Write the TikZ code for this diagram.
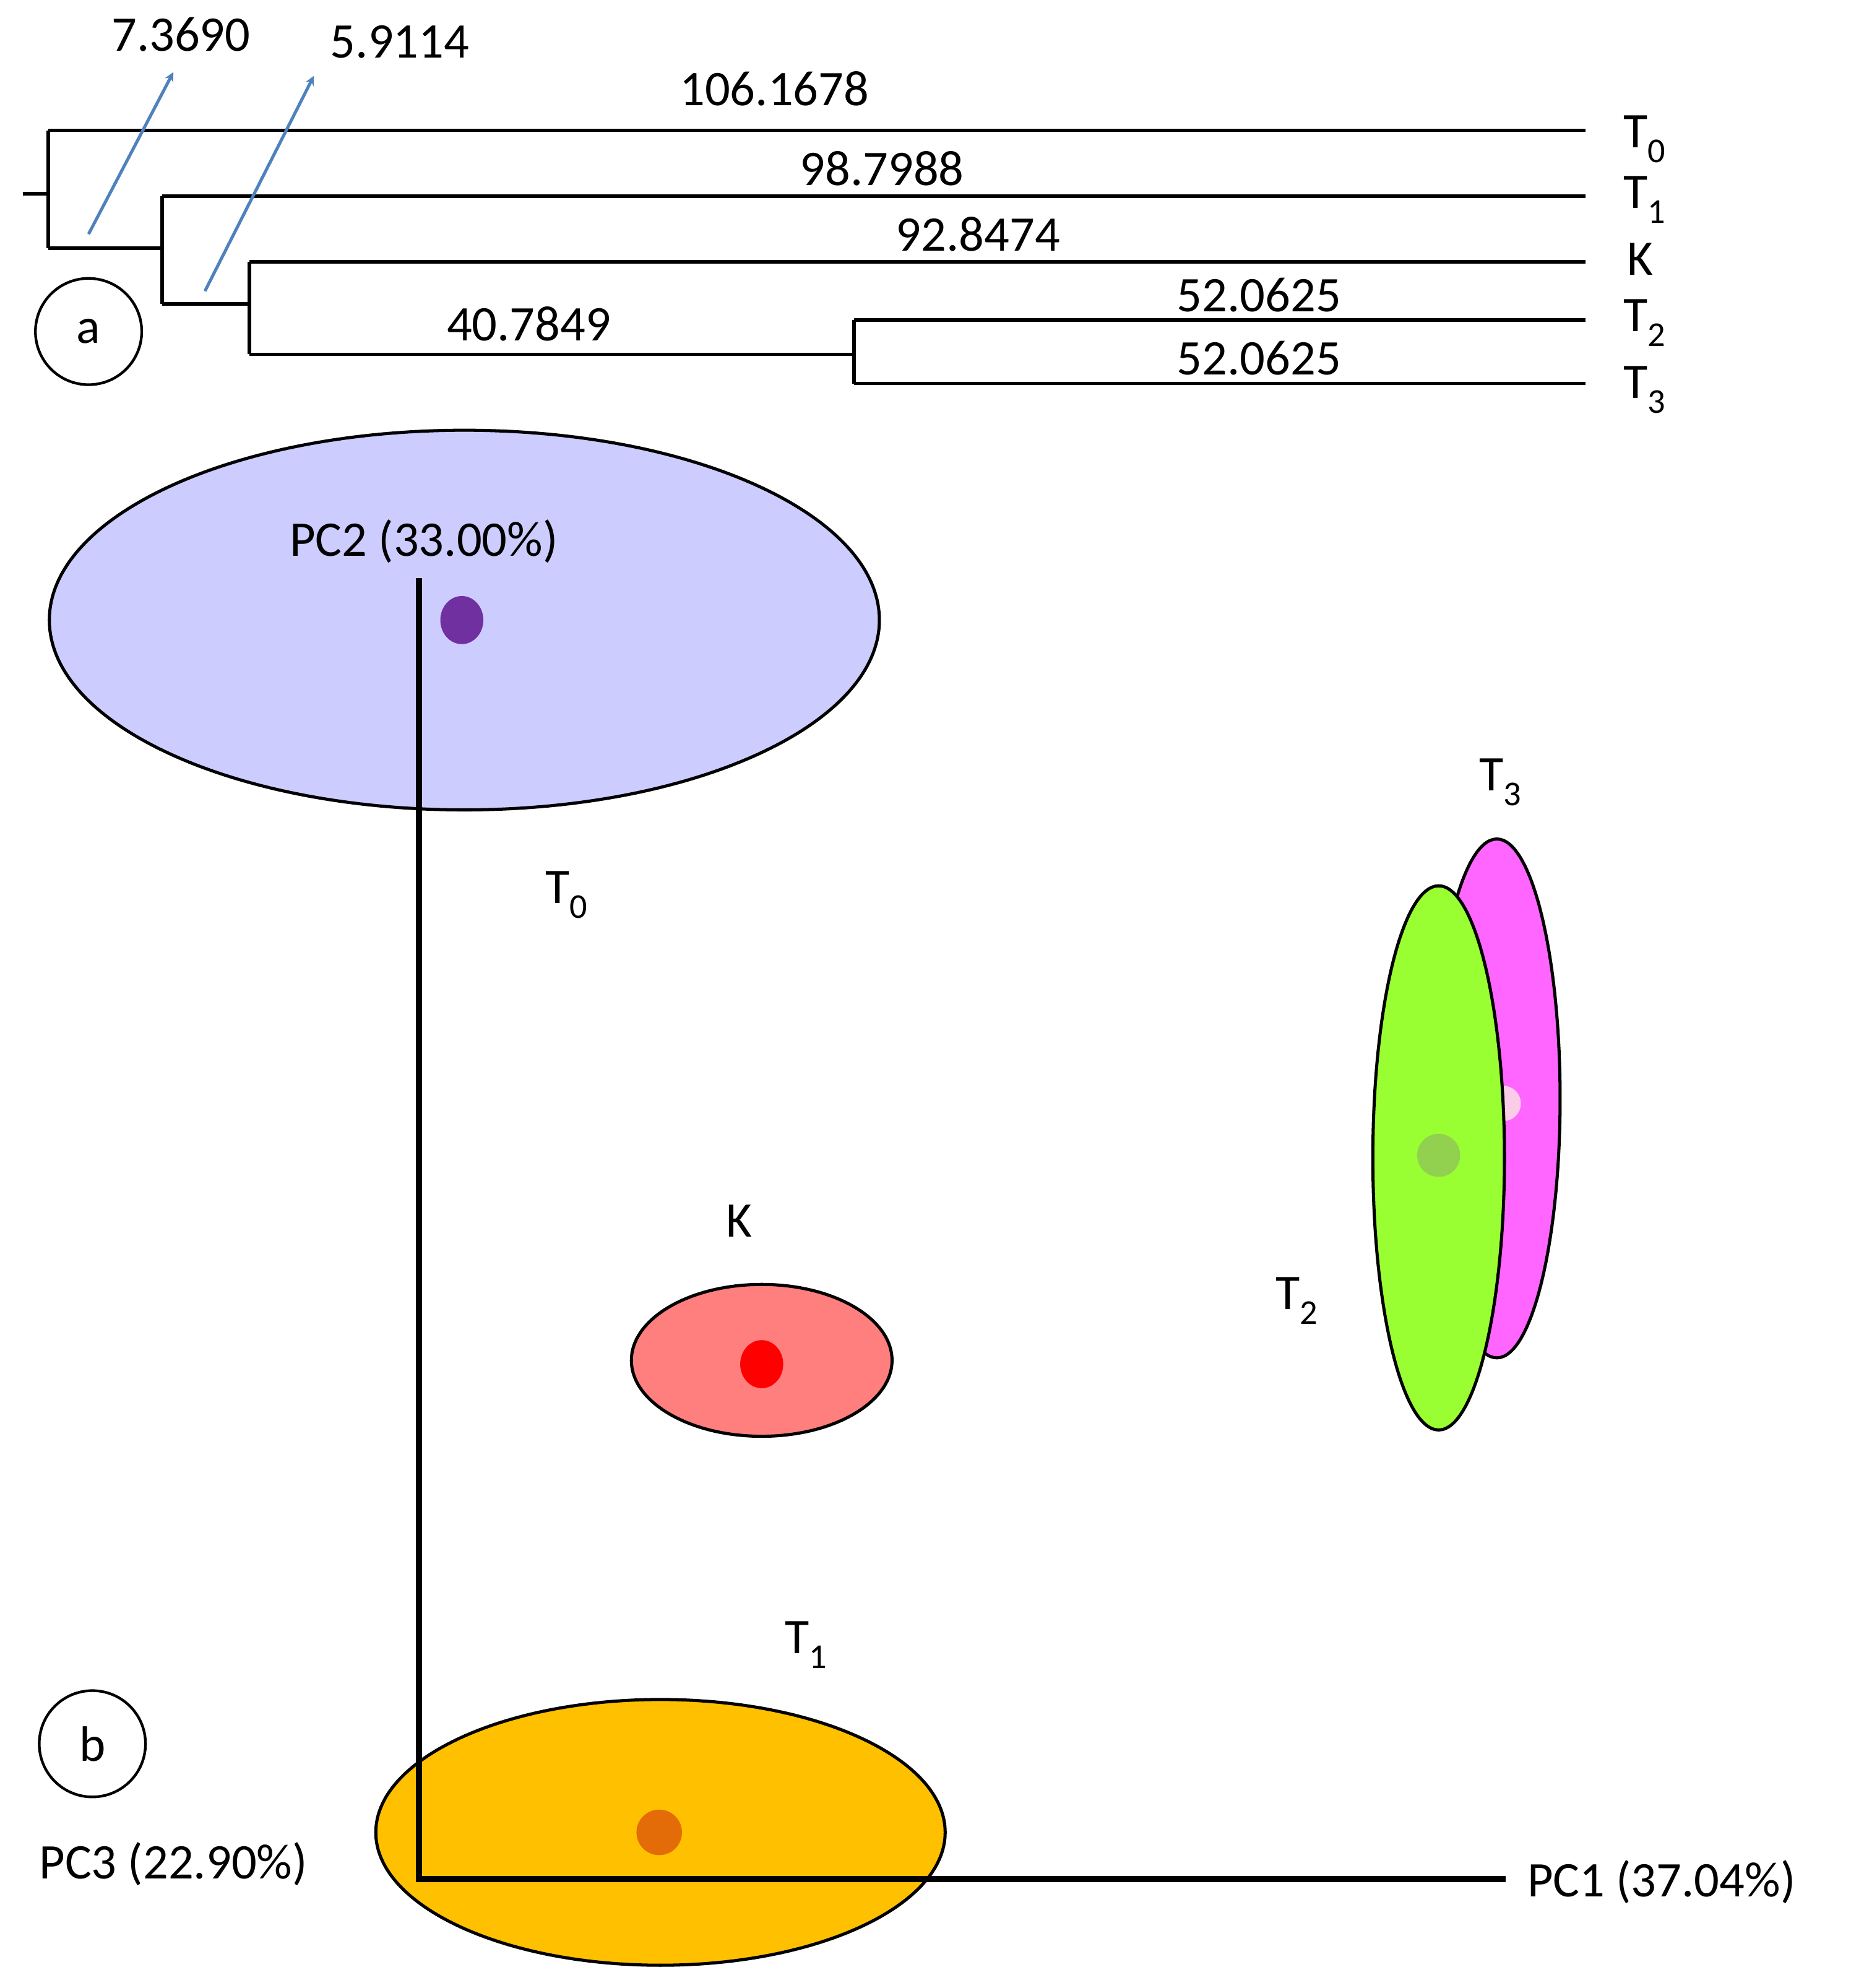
\documentclass[tikz,border=0pt]{standalone}
\usepackage{fontspec}
\setmainfont{Carlito}
\begin{document}
\begin{tikzpicture}[x=0.05cm,y=-0.05cm,
  tl/.style={line width=4pt},
  lab/.style={font=\fontsize{56}{60}\selectfont,inner sep=0pt},
  ell/.style={draw=black,line width=3.5pt},
  arr/.style={draw={rgb,255:red,79;green,129;blue,189},line width=3.5pt,->,>=stealth}]
\useasboundingbox (0,0) rectangle (1473,1571);
% tree
\draw[tl] (18,153) -- (38,153);
\draw[tl] (38,103) -- (38,196);
\draw[tl] (38,103) -- (1253,103);
\draw[tl] (38,196) -- (128,196);
\draw[tl] (128,155) -- (128,240);
\draw[tl] (128,155) -- (1253,155);
\draw[tl] (128,240) -- (197,240);
\draw[tl] (197,207) -- (197,280);
\draw[tl] (197,207) -- (1253,207);
\draw[tl] (197,280) -- (675,280);
\draw[tl] (675,253) -- (675,303);
\draw[tl] (675,253) -- (1253,253);
\draw[tl] (675,303) -- (1253,303);
\node[lab] (l1) at (612,70) {106.1678};
\node[lab] (l2) at (697,133) {98.7988};
\node[lab] (l3) at (773,185) {92.8474};
\node[lab] (l4) at (418,256) {40.7849};
\node[lab] (l5) at (995,233) {52.0625};
\node[lab] (l6) at (995,283) {52.0625};
\node[lab,anchor=west] (lt0) at (1283,110) {T\textsubscript{0}};
\node[lab,anchor=west] (lt1) at (1283,158) {T\textsubscript{1}};
\node[lab,anchor=west] (lk) at (1286,205) {K};
\node[lab,anchor=west] (lt2) at (1283,255) {T\textsubscript{2}};
\node[lab,anchor=west] (lt3) at (1283,308) {T\textsubscript{3}};
\coordinate (a1s) at (70,185); \coordinate (a1e) at (137,57);
\coordinate (a2s) at (162,230); \coordinate (a2e) at (248,60);
\draw[arr] (a1s) -- (a1e);
\draw[arr] (a2s) -- (a2e);
\node[lab] (n1) at (143,27) {7.3690};
\node[lab] (n2) at (316,33) {5.9114};
\node[lab,draw,circle,line width=3pt,minimum size=84\pgflinewidth*0+4.2cm] (ca) at (70,262) {a};
% PCA
\filldraw[ell,fill={rgb,255:red,204;green,204;blue,255}] (367,490) ellipse (328 and 150);
\fill[fill={rgb,255:red,112;green,48;blue,160}] (365,490) ellipse (17 and 19);
\filldraw[ell,fill={rgb,255:red,255;green,102;blue,255}] (1183,868) ellipse (50 and 205);
\fill[white!80!magenta] (1188,872) circle (14);
\filldraw[ell,fill={rgb,255:red,153;green,255;blue,51}] (1137,915) ellipse (52 and 215);
\fill[fill={rgb,255:red,146;green,208;blue,80}] (1137,913) circle (17);
\filldraw[ell,fill={rgb,255:red,255;green,127;blue,127}] (602,1075) ellipse (103 and 60);
\fill[red] (602,1078) ellipse (17 and 19);
\filldraw[ell,fill={rgb,255:red,255;green,192;blue,0}] (522,1448) ellipse (225 and 105);
\fill[fill={rgb,255:red,227;green,108;blue,9}] (521,1448) circle (18);
\coordinate (ytop) at (331,457); \coordinate (org) at (331,1485); \coordinate (xend) at (1190,1485);
\draw[line width=7pt] (ytop) -- (org) -- (xend);
\node[lab] (pc2) at (335,428) {PC2 (33.00\%)};
\node[lab,anchor=west] (pc1) at (1207,1487) {PC1 (37.04\%)};
\node[lab] (pc3) at (137,1473) {PC3 (22.90\%)};
\node[lab] (t0) at (448,707) {T\textsubscript{0}};
\node[lab] (t3) at (1186,618) {T\textsubscript{3}};
\node[lab] (t2) at (1025,1028) {T\textsubscript{2}};
\node[lab] (k) at (584,965) {K};
\node[lab] (t1) at (637,1300) {T\textsubscript{1}};
\node[lab,draw,circle,line width=3pt,minimum size=4.2cm] (cb) at (73,1378) {b};
\end{tikzpicture}
\end{document}
